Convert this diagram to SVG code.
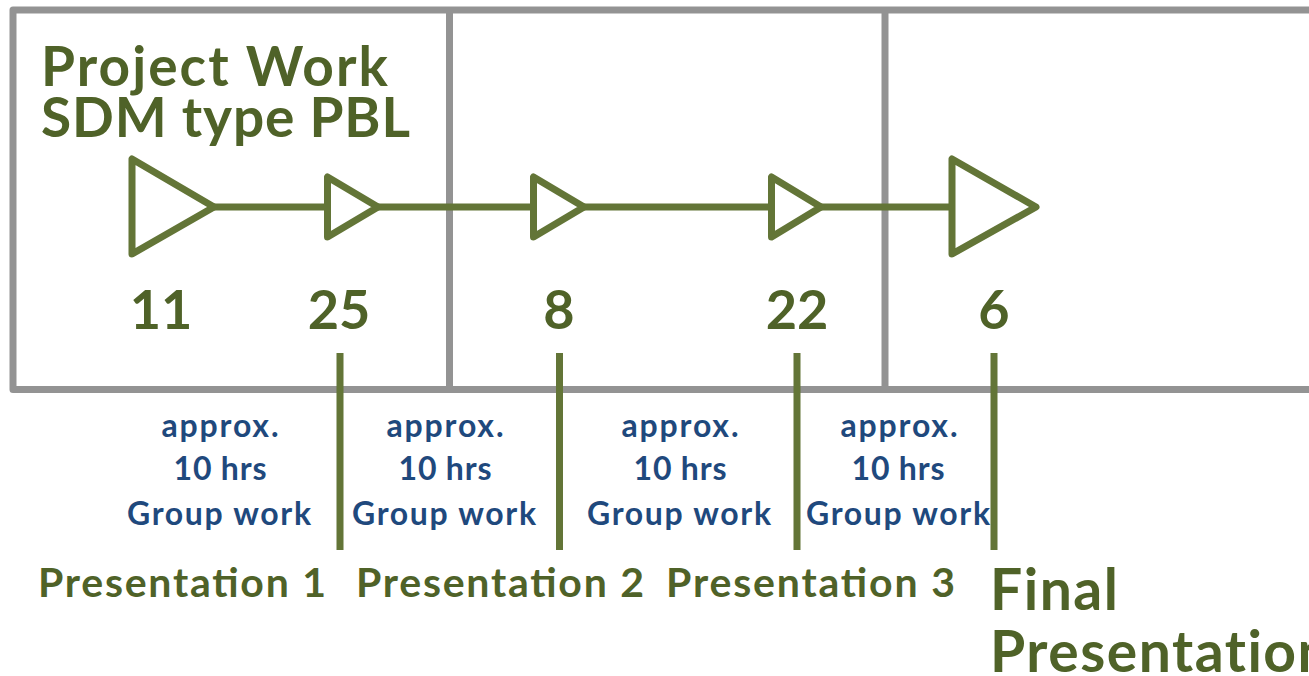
<svg xmlns="http://www.w3.org/2000/svg" width="1309" height="676" viewBox="0 0 1309 676">
<style>
.frame{fill:none;stroke:#939393;stroke-width:7;stroke-linejoin:round}
.tri{fill:#fff;stroke:#637537;stroke-width:7;stroke-linejoin:round}
.ln{stroke:#637537;stroke-width:7;fill:none}
.t{font-family:Lato,"Open Sans","Liberation Sans",sans-serif;font-weight:700}
.g{fill:#4F6228}
.b{fill:#1F497D}
.num{font-size:54px;text-anchor:middle}
.title{font-size:55px}
.work{font-size:32px;text-anchor:middle}
.pres{font-size:41px}
.fin{font-size:57px;letter-spacing:1.5px}
</style>
<g id="frame">
<rect class="frame" x="13" y="10" width="1320" height="379.5"/>
<line class="frame" x1="449.5" y1="10" x2="449.5" y2="389.5"/>
<line class="frame" x1="885" y1="10" x2="885" y2="389.5"/>
</g>
<g id="title">
<text class="t g title" x="41" y="86" textLength="347" lengthAdjust="spacing">Project Work</text>
<text class="t g title" x="41" y="137" textLength="369" lengthAdjust="spacing">SDM type PBL</text>
</g>
<g id="connectors">
<line class="ln" x1="214" y1="207" x2="327.5" y2="207"/>
<line class="ln" x1="378" y1="207" x2="533.5" y2="207"/>
<line class="ln" x1="584" y1="207" x2="771.5" y2="207"/>
<line class="ln" x1="821" y1="207" x2="952" y2="207"/>
<line class="ln" x1="340" y1="353" x2="340" y2="550"/>
<line class="ln" x1="559.5" y1="353" x2="559.5" y2="550"/>
<line class="ln" x1="797" y1="353" x2="797" y2="550"/>
<line class="ln" x1="994" y1="353" x2="994" y2="550"/>
</g>
<g id="m11">
<polygon class="tri" points="132,159 132,254 214,207"/>
<text class="t g num" x="161" y="329">11</text>
</g>
<g id="m25">
<polygon class="tri" points="327.5,177 327.5,237 378,207"/>
<text class="t g num" x="339" y="329">25</text>
</g>
<g id="m8">
<polygon class="tri" points="533.5,177 533.5,237 584,207"/>
<text class="t g num" x="559" y="329">8</text>
</g>
<g id="m22">
<polygon class="tri" points="771.5,177 771.5,237 821,207"/>
<text class="t g num" x="797" y="329">22</text>
</g>
<g id="m6">
<polygon class="tri" points="952,159 952,254 1036,207"/>
<text class="t g num" x="994" y="329">6</text>
</g>
<g id="work1">
<text class="t b work" x="220" y="437" textLength="117" lengthAdjust="spacing">approx.</text>
<text class="t b work" x="220" y="480" textLength="93" lengthAdjust="spacing">10 hrs</text>
<text class="t b work" x="219" y="525" textLength="184" lengthAdjust="spacing">Group work</text>
</g>
<g id="work2">
<text class="t b work" x="445" y="437" textLength="117" lengthAdjust="spacing">approx.</text>
<text class="t b work" x="445" y="480" textLength="93" lengthAdjust="spacing">10 hrs</text>
<text class="t b work" x="444" y="525" textLength="184" lengthAdjust="spacing">Group work</text>
</g>
<g id="work3">
<text class="t b work" x="680" y="437" textLength="117" lengthAdjust="spacing">approx.</text>
<text class="t b work" x="680" y="480" textLength="93" lengthAdjust="spacing">10 hrs</text>
<text class="t b work" x="679" y="525" textLength="184" lengthAdjust="spacing">Group work</text>
</g>
<g id="work4">
<text class="t b work" x="899" y="437" textLength="117" lengthAdjust="spacing">approx.</text>
<text class="t b work" x="898" y="480" textLength="93" lengthAdjust="spacing">10 hrs</text>
<text class="t b work" x="898" y="525" textLength="184" lengthAdjust="spacing">Group work</text>
</g>
<g id="p1"><text class="t g pres" x="38" y="597" textLength="288" lengthAdjust="spacing">Presentation 1</text></g>
<g id="p2"><text class="t g pres" x="356" y="597" textLength="288" lengthAdjust="spacing">Presentation 2</text></g>
<g id="p3"><text class="t g pres" x="666" y="597" textLength="289" lengthAdjust="spacing">Presentation 3</text></g>
<g id="pf">
<text class="t g fin" x="990" y="610">Final</text>
<text class="t g fin" x="990" y="672">Presentation</text>
</g>
</svg>
